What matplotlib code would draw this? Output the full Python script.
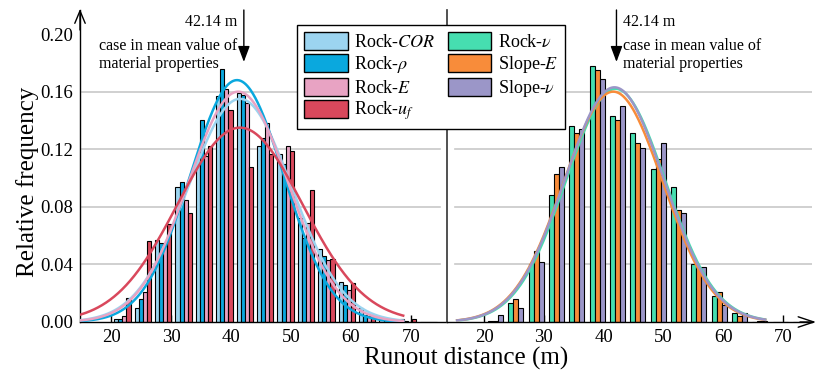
import numpy as np
import matplotlib
matplotlib.use("Agg")
import matplotlib.pyplot as plt
from matplotlib.patches import Patch, FancyArrowPatch

plt.rcParams['font.family'] = ['Liberation Serif', 'DejaVu Serif']
plt.rcParams['mathtext.fontset'] = 'stix'

# ---------------- data ----------------
bin_centers = [21.9, 25.3, 28.7, 32.1, 35.5, 38.9, 42.3, 45.7, 49.1, 52.5,
               55.9, 59.3, 62.7, 66.1, 69.5, 72.9]

rock_cor = [0.002, 0.010, 0.057, 0.094, 0.115, 0.157, 0.159, 0.122, 0.117, 0.072,
            0.051, 0.028, 0.010, 0.003, 0.002, 0.000]
rock_rho = [0.002, 0.016, 0.055, 0.097, 0.140, 0.176, 0.158, 0.128, 0.110, 0.058,
            0.046, 0.026, 0.005, 0.002, 0.001, 0.000]
rock_E = [0.004, 0.021, 0.053, 0.085, 0.115, 0.162, 0.152, 0.138, 0.122, 0.069,
          0.043, 0.022, 0.004, 0.002, 0.000, 0.000]
rock_uf = [0.017, 0.056, 0.068, 0.076, 0.122, 0.147, 0.108, 0.117, 0.119, 0.092,
           0.044, 0.027, 0.004, 0.001, 0.002, 0.000]

rock_nu = [0.001, 0.013, 0.040, 0.088, 0.136, 0.178, 0.143, 0.131, 0.106, 0.094,
           0.040, 0.018, 0.006, 0.000, 0.000, 0.000]
slope_E = [0.001, 0.016, 0.049, 0.103, 0.131, 0.175, 0.140, 0.124, 0.113, 0.078,
           0.038, 0.021, 0.004, 0.001, 0.000, 0.000]
slope_nu = [0.005, 0.010, 0.042, 0.108, 0.134, 0.169, 0.150, 0.121, 0.124, 0.076,
            0.038, 0.012, 0.006, 0.001, 0.000, 0.000]

# fitted normal curves: mean, std, peak height
left_fit_mean = [41.5, 41.0, 41.2, 41.5]
left_fit_std = [8.6, 7.8, 8.3, 10.4]
left_fit_peak = [0.155, 0.168, 0.160, 0.135]
right_fit_mean = [42.0, 41.6, 41.8]
right_fit_std = [8.3, 8.3, 8.3]
right_fit_peak = [0.162, 0.160, 0.163]
left_fit_range = (15.0, 68.7)
right_fit_range = (15.5, 67.0)

left_labels = ['Rock-$\\mathit{COR}$', 'Rock-$\\rho$', 'Rock-$E$', 'Rock-$u_f$']
right_labels = ['Rock-$\\nu$', 'Slope-$E$', 'Slope-$\\nu$']
left_colors = ['#9CD4F0', '#0AA8DE', '#E8A3C3', '#D9485C']
right_colors = ['#46DEB0', '#F88C3A', '#9B96C8']

mean_case = 42.14
y_ticks = [0.00, 0.04, 0.08, 0.12, 0.16, 0.20]
x_ticks = [20, 30, 40, 50, 60, 70]

# ---------------- figure ----------------
W, H = 819, 381
fig = plt.figure(figsize=(W / 100, H / 100), dpi=100)
ax1 = fig.add_axes([80 / W, 59 / H, 367 / W, 312 / H])
ax2 = fig.add_axes([447 / W, 59 / H, 365 / W, 312 / H])
ytop = 0.2167
ax1.set_xlim(14.83, 76.0)
ax2.set_xlim(13.8, 74.84)
for ax in (ax1, ax2):
    ax.set_ylim(0, ytop)

def draw(ax, series, colors, means, stds, peaks, width, frange, gx):
    n = len(series)
    centers = np.array(bin_centers)
    for i, (vals, col) in enumerate(zip(series, colors)):
        ax.bar(centers + (i - (n - 1) / 2) * width, vals, width=width,
               color=col, edgecolor='black', linewidth=0.8, zorder=2)
    xs = np.linspace(frange[0], frange[1], 400)
    for m, s, p, col in zip(means, stds, peaks, colors):
        ax.plot(xs, p * np.exp(-0.5 * ((xs - m) / s) ** 2), color=col, lw=1.8, zorder=3)
    for yv in y_ticks[1:-1]:
        ax.axhline(yv, xmin=gx[0], xmax=gx[1], color='#c8c8c8', lw=1.2, zorder=0)

draw(ax1, [rock_cor, rock_rho, rock_E, rock_uf], left_colors,
     left_fit_mean, left_fit_std, left_fit_peak, 0.68, left_fit_range, (0.005, 0.98))
draw(ax2, [rock_nu, slope_E, slope_nu], right_colors,
     right_fit_mean, right_fit_std, right_fit_peak, 0.84, right_fit_range, (0.022, 1.0))

# spines / ticks
ax1.spines['top'].set_visible(False)
ax1.spines['right'].set_visible(False)
for s in ('left', 'bottom'):
    ax1.spines[s].set_linewidth(1.0)
ax2.spines['top'].set_visible(False)
ax2.spines['right'].set_visible(False)
ax2.spines['left'].set_linewidth(1.2)
ax2.spines['left'].set_color('#333333')
ax2.spines['bottom'].set_linewidth(1.0)

for ax in (ax1, ax2):
    ax.set_xticks(x_ticks)
    ax.set_xticklabels([str(t) for t in x_ticks])
    ax.tick_params(axis='x', direction='in', length=5, width=1, labelsize=13.5, pad=5)
ax1.set_yticks(y_ticks)
ax1.set_yticklabels(['%.2f' % t for t in y_ticks])
ax1.tick_params(axis='y', length=0, labelsize=13.5, pad=5)
ax2.set_yticks([])

# axis arrows
fig.add_artist(FancyArrowPatch(
    (800 / W, 59 / H), (816 / W, 59 / H), transform=fig.transFigure,
    arrowstyle='->,head_length=0.75,head_width=0.25', mutation_scale=15,
    lw=1.0, color='black', shrinkA=0, shrinkB=0))
fig.add_artist(FancyArrowPatch(
    (80 / W, (H - 30) / H), (80 / W, (H - 9) / H), transform=fig.transFigure,
    arrowstyle='->,head_length=0.6,head_width=0.25', mutation_scale=15,
    lw=1.0, color='black', shrinkA=0, shrinkB=0))

# annotations
y_head = ytop - 52 / 1442
for ax, side in ((ax1, -1), (ax2, 1)):
    ax.annotate('', xy=(mean_case, y_head), xytext=(mean_case, ytop),
                arrowprops=dict(arrowstyle='-|>,head_length=0.8,head_width=0.3',
                                color='black', lw=1.0, mutation_scale=12,
                                shrinkA=0, shrinkB=0), annotation_clip=False)
    ha = 'right' if side < 0 else 'left'
    ax.annotate('42.14 m', xy=(mean_case, ytop - 12 / 1442), xytext=(5 * side, 0),
                textcoords='offset points', ha=ha, va='center', fontsize=11.5,
                annotation_clip=False)
    ax.annotate('case in mean value of\nmaterial properties',
                xy=(mean_case, ytop - 28 / 1442), xytext=(5 * side, 0),
                textcoords='offset points', ha=ha, va='top', fontsize=11.5,
                multialignment='left', linespacing=1.15, annotation_clip=False)

# labels
fig.text(28 / W, 1 - 182 / H, 'Relative frequency', rotation=90, ha='center',
         va='center', fontsize=18)
fig.text(466 / W, 1 - 358 / H, 'Runout distance (m)', ha='center', va='center',
         fontsize=18)

# legend
handles = [Patch(facecolor=c, edgecolor='black', linewidth=1.0)
           for c in left_colors + right_colors]
leg = fig.legend(handles, left_labels + right_labels, ncol=2, loc='upper left',
                 bbox_to_anchor=(297 / W, 1 - 25 / H), frameon=True, fancybox=False,
                 edgecolor='black', framealpha=1, fontsize=13, handlelength=2.4,
                 handleheight=1.15, labelspacing=0.15, columnspacing=0.7,
                 handletextpad=0.35, borderpad=0.4, borderaxespad=0)
leg.get_frame().set_linewidth(1.0)

fig.savefig('out.png', dpi=100)
